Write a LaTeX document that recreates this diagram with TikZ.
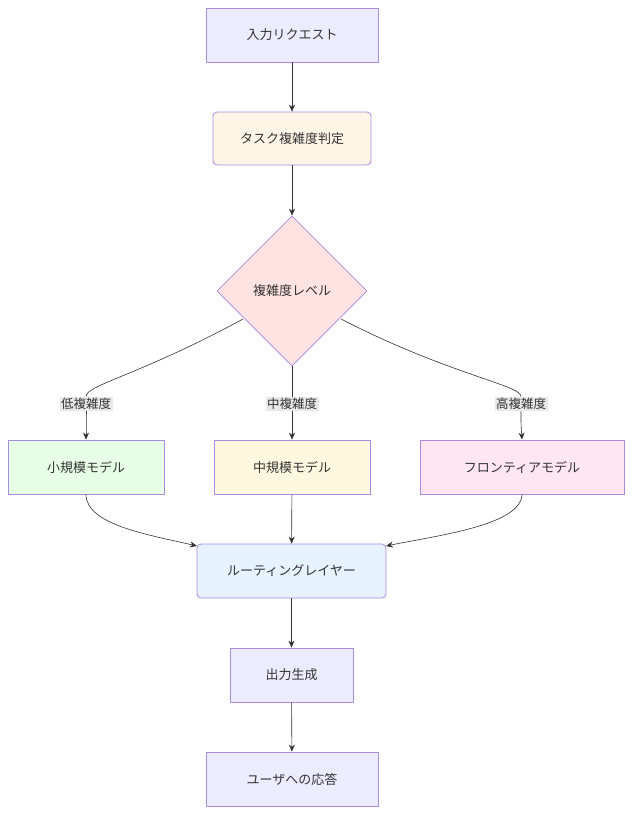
\documentclass[tikz,border=0pt]{standalone}
\usepackage{fontspec}
\setmainfont{Noto Sans CJK JP}
\usetikzlibrary{shapes.geometric,arrows.meta}
\definecolor{pur}{HTML}{A98BE0}
\definecolor{txt}{HTML}{333333}
\definecolor{ln}{HTML}{333333}
\definecolor{cA}{HTML}{ECECFF}
\definecolor{cB}{HTML}{FFF5E6}
\definecolor{cC}{HTML}{FFE3E3}
\definecolor{cS}{HTML}{E6FFE6}
\definecolor{cM}{HTML}{FFF8E1}
\definecolor{cF}{HTML}{FFE6F2}
\definecolor{cR}{HTML}{E6F2FF}
\begin{document}
\begin{tikzpicture}[x=1pt,y=-1pt,
 box/.style={draw=pur,line width=0.8pt,text=txt,font=\fontsize{13}{15}\selectfont,inner sep=0pt,minimum height=54pt},
 arr/.style={draw=ln,line width=0.6pt,-{Stealth[length=7pt,width=6pt]}},
 lbl/.style={fill=black!9,text=txt,font=\fontsize{12.5}{14}\selectfont,inner sep=1.5pt}]
\useasboundingbox (0,0) rectangle (632,814);
\node[box,fill=cA,minimum width=172pt] (a) at (292,35) {入力リクエスト};
\node[box,fill=cB,rounded corners=4pt,minimum width=158pt,minimum height=53pt] (b) at (292,138.5) {タスク複雑度判定};
\node[box,fill=cC,diamond,aspect=1,minimum width=150pt,minimum height=150pt] (c) at (292,291) {複雑度レベル};
\node[box,fill=cS,minimum width=156pt] (s) at (86,467) {小規模モデル};
\node[box,fill=cM,minimum width=156pt] (m) at (292,467) {中規模モデル};
\node[box,fill=cF,minimum width=204pt] (f) at (522,467) {フロンティアモデル};
\node[box,fill=cR,rounded corners=4pt,minimum width=189pt] (r) at (291.5,571) {ルーティングレイヤー};
\node[box,fill=cA,minimum width=123pt] (o) at (291.5,675) {出力生成};
\node[box,fill=cA,minimum width=172pt] (u) at (292,779) {ユーザへの応答};
\draw[arr] (a) -- (b);
\draw[arr] (b) -- (c);
\coordinate (cl) at (243,319);
\coordinate (cr) at (341,319);
\coordinate (rl) at (197,546);
\coordinate (rr) at (386,546);
\node[lbl] (l1) at (86,404) {低複雑度};
\node[lbl] (l2) at (292,404) {中複雑度};
\node[lbl] (l3) at (521,404) {高複雑度};
\draw[draw=ln,line width=0.6pt] (cl) .. controls (140,375) and (86,385) .. (l1.north);
\draw[arr] (l1.south) .. controls (86,425) .. (s.north);
\draw[draw=ln,line width=0.6pt] (c.south) -- (l2.north);
\draw[arr] (l2.south) -- (m.north);
\draw[draw=ln,line width=0.6pt] (cr) .. controls (450,375) and (521,385) .. (l3.north);
\draw[arr] (l3.south) .. controls (521,425) .. (f.north);
\draw[arr] (s.south) .. controls (86,525) and (150,535) .. (rl);
\draw[arr] (m) -- (r);
\draw[arr] (f.south) .. controls (521,525) and (440,535) .. (rr);
\draw[arr] (r) -- (o);
\draw[arr] (o) -- (u);
\end{tikzpicture}
\end{document}
